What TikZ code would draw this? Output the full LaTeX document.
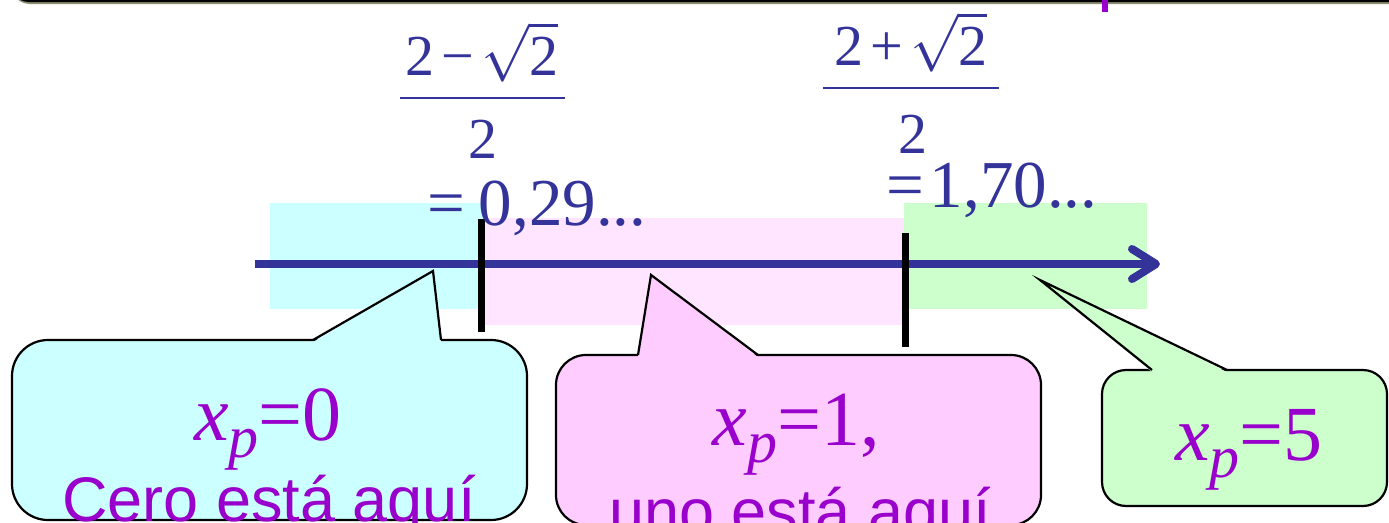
\documentclass[tikz,border=0pt]{standalone}
\usepackage{fontspec}
\setmainfont{Liberation Serif}
\newfontfamily\arialf{Liberation Sans}
\usepackage{graphicx}
\usetikzlibrary{arrows.meta}
\definecolor{navy}{HTML}{333399}
\definecolor{purp}{HTML}{9900CC}
\definecolor{cyanband}{HTML}{CCFFFF}
\definecolor{pinkband}{HTML}{FFE5FF}
\definecolor{pinkbox}{HTML}{FFCCFF}
\definecolor{greenband}{HTML}{CCFFCC}
\definecolor{frameolive}{HTML}{8C8C70}
\newcommand{\xsub}{\textit{x}\raisebox{-0.22em}{\fontsize{60}{60}\selectfont\textit{p}}}
\newcommand{\numer}[1]{\scalebox{5.8}{\fontsize{10}{12}\selectfont\mbox{2\hspace{0.12em}#1\hspace{0.12em}}$\sqrt{\mbox{2}}$}}
\begin{document}
\begin{tikzpicture}[x=1pt,y=-1pt,
  callout/.style={draw=black, line width=2.2pt, inner sep=0pt},
  ptr/.style={draw=black, line width=2.2pt, line join=miter},
  tickbar/.style={line width=7pt, black},
  numlab/.style={text=navy, font=\fontsize{58}{60}\selectfont, inner sep=0pt, anchor=base},
  eqlab/.style={text=navy, font=\fontsize{67}{69}\selectfont, inner sep=0pt, anchor=base},
  mathlab/.style={text=purp, font=\fontsize{78}{80}\selectfont, inner sep=0pt, anchor=base},
  sanslab/.style={text=purp, font=\arialf\fontsize{63}{65}\selectfont, inner sep=0pt, anchor=base},
]
\clip (0,0) rectangle (1389,522);

% top frame remnant
\draw[frameolive, line width=2pt, rounded corners=18pt] (12,-40) -- (12,3) -- (1400,3);
\draw[black, line width=2pt, rounded corners=18pt] (11,-40) -- (11,1) -- (1400,1);
\fill[purp] (1102,0) rectangle (1108,12);

% bands
\fill[cyanband] (270,203) rectangle (485,309);
\fill[pinkband] (485,218) rectangle (905,325);
\fill[greenband] (904,203) rectangle (1147,309);

% axis
\coordinate (axL) at (255,264);
\coordinate (axR) at (1160,264);
\draw[navy, line width=8pt, -{Straight Barb[length=24pt,width=30pt,round]}] (axL) -- (axR);

% ticks
\coordinate (tk1a) at (481,219);
\coordinate (tk1b) at (481,332);
\coordinate (tk2a) at (905,233);
\coordinate (tk2b) at (905,347);
\draw[tickbar] (tk1a) -- (tk1b);
\draw[tickbar] (tk2a) -- (tk2b);

% left fraction
\node[numlab] (n1) at (482,75) {\numer{−}};
\draw[navy, line width=2.5pt] (400,98) -- (565,98);
\node[numlab] (d1) at (483,158) {2};
\node[eqlab] (e1) at (537,225) {=\hspace{0.2em}0,29...};

% right fraction
\node[numlab] (n2) at (911,65) {\numer{+}};
\draw[navy, line width=2.5pt] (823,88) -- (999,88);
\node[numlab] (d2) at (913,153) {2};
\node[eqlab] (e2) at (992,207) {=\hspace{0.08em}1,70...};

% callout 1
\node[callout, fill=cyanband, rounded corners=36pt, minimum width=515pt, minimum height=180pt] (b1) at (269.5,430) {};
\coordinate (t1) at (433,271);
\fill[cyanband] (313,342) -- (t1) -- (441,342) -- cycle;
\draw[ptr] (313,340) -- (t1) -- (441,340);
\node[mathlab] (m1) at (268,440) {\xsub=0};
\node[sanslab] (s1) at (269,521) {Cero está aquí};

% callout 2
\node[callout, fill=pinkbox, rounded corners=30pt, minimum width=485pt, minimum height=170pt] (b2) at (798.5,440) {};
\coordinate (t2) at (651,275);
\fill[pinkbox] (638,357) -- (t2) -- (758,357) -- cycle;
\draw[ptr] (638,355) -- (t2) -- (758,355);
\node[mathlab] (m2) at (796,445) {\xsub=1,};
\node[sanslab] (s2) at (800,533) {uno está aquí};

% callout 3
\node[callout, fill=greenband, rounded corners=24pt, minimum width=285pt, minimum height=136pt] (b3) at (1244.5,438) {};
\coordinate (t3) at (1040,280);
\fill[greenband] (1152,372) -- (t3) -- (1227,372) -- cycle;
\draw[ptr] (1152,370) -- (t3) -- (1227,370);
\node[mathlab] (m3) at (1249,460) {\xsub=5};
\end{tikzpicture}
\end{document}
